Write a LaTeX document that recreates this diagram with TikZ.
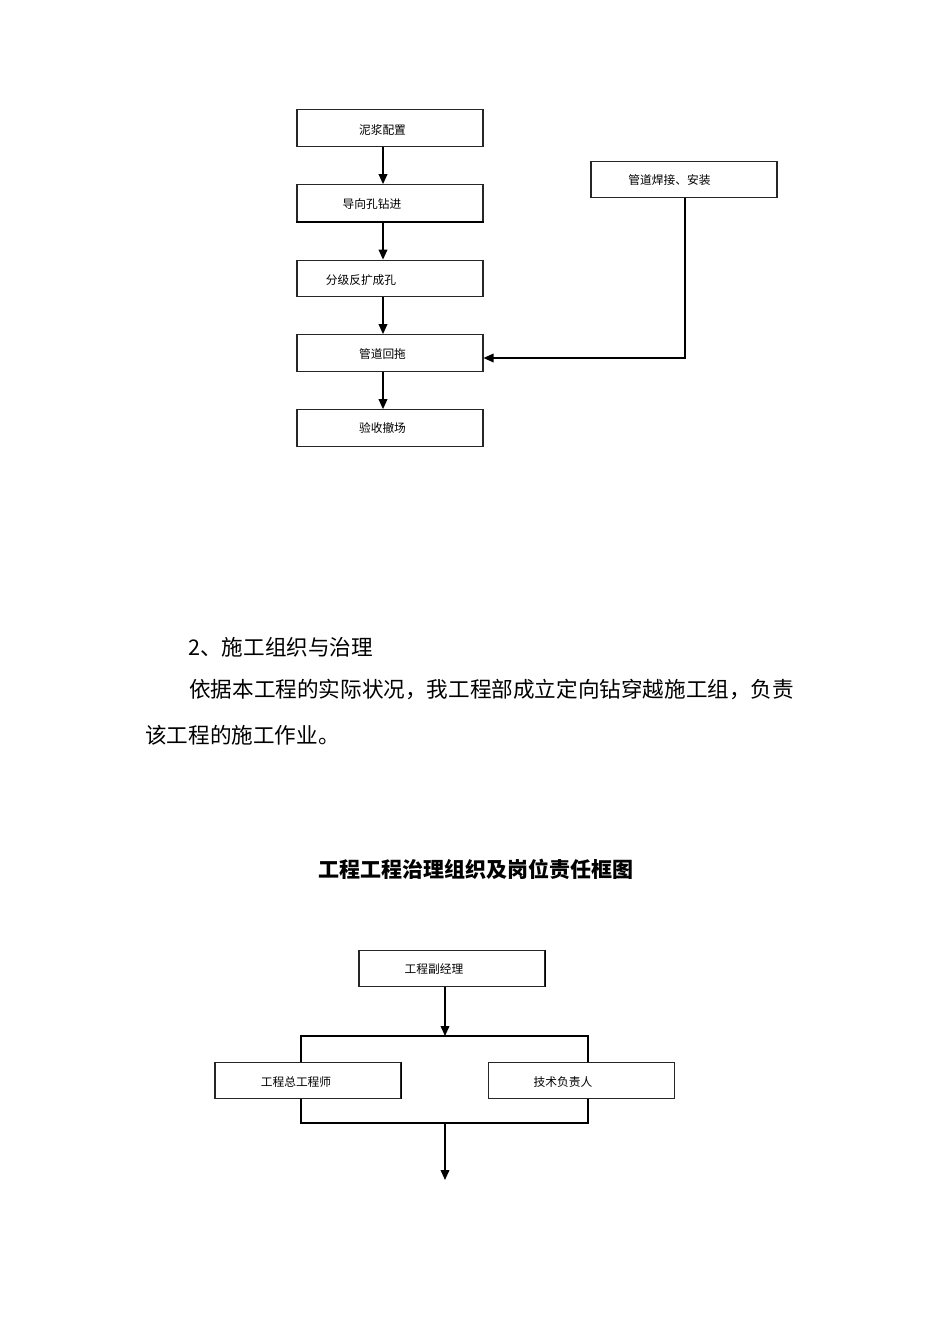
\documentclass[tikz,border=0pt]{standalone}
\usepackage{fontspec}
\setmainfont{Noto Sans CJK SC}
\newfontfamily\cjk{Noto Sans CJK SC}
\usetikzlibrary{arrows.meta}
\tikzset{
  box/.style={draw=black!85, line width=0.8pt, minimum width=139.5pt, minimum height=27.5pt, inner sep=0pt},
  lbl/.style={font=\cjk\fontsize{8.8pt}{10pt}\selectfont, inner sep=0pt},
  body/.style={font=\cjk\fontsize{16.2pt}{20pt}\selectfont, inner sep=0pt, anchor=west},
  arr/.style={line width=1.1pt, -{Triangle[length=7.5pt,width=6.5pt]}},
  ln/.style={line width=1.1pt},
}
\begin{document}
\begin{tikzpicture}[x=0.75pt,y=-0.75pt]
\useasboundingbox (0,0) rectangle (950,1344);
% top flowchart
\node[box] (b1) at (390,128) {};
\node[box] (b2) at (390,203) {};
\node[box] (b3) at (390,278.5) {};
\node[box] (b4) at (390,353) {};
\node[box] (b5) at (390,428) {};
\node[box] (b6) at (684,179.5) {};
\draw[line width=1.4pt] (b2.south west) -- (b2.south east);
\node[lbl] (t1) at (382.5,130) {泥浆配置};
\node[lbl] (t2) at (372,204) {导向孔钻进};
\node[lbl] (t3) at (361,280) {分级反扩成孔};
\node[lbl] (t4) at (382.5,354) {管道回拖};
\node[lbl] (t5) at (382.5,428) {验收撤场};
\node[lbl] (t6) at (669.5,180) {管道焊接、安装};
\draw[arr] (b1.south -| 383,0) -- (b2.north -| 383,0);
\draw[arr] (b2.south -| 383,0) -- (b3.north -| 383,0);
\draw[arr] (b3.south -| 383,0) -- (b4.north -| 383,0);
\draw[arr] (b4.south -| 383,0) -- (b5.north -| 383,0);
\coordinate (c1) at (685,358);
\draw[arr, line width=0.9pt] (b6.south -| c1) -- (c1) -- (b4.east |- c1);
% text
\node[body] (h1) at (188,647) {2、施工组织与治理};
\node[body] (p1) at (189,690) {依据本工程的实际状况，我工程部成立定向钻穿越施工组，负责};
\node[body] (p2) at (145,735) {该工程的施工作业。};
\node[font=\cjk\bfseries\fontsize{15.75pt}{18pt}\selectfont, inner sep=0pt] (title) at (475.5,869) {工程工程治理组织及岗位责任框图};
% org chart
\node[box] (o1) at (452,968.5) {};
\node[box] (o2) at (308,1080.5) {};
\node[box] (o3) at (581.5,1080.5) {};
\draw[line width=1.4pt] (o1.north east) -- (o1.south east);
\draw[line width=1.4pt] (o2.north east) -- (o2.south east);
\node[lbl] (l1) at (434,969) {工程副经理};
\node[lbl] (l2) at (296,1082) {工程总工程师};
\node[lbl] (l3) at (563,1082) {技术负责人};
\coordinate (j1) at (445,1036);
\coordinate (jl) at (301,1036);
\coordinate (jr) at (588,1036);
\coordinate (k1) at (445,1123);
\coordinate (kl) at (301,1123);
\coordinate (kr) at (588,1123);
\coordinate (end) at (445,1180);
\draw[arr] (o1.south -| j1) -- (j1);
\draw[ln] (o2.north -| jl) -- (jl) -- (jr) -- (o3.north -| jr);
\draw[ln] (o2.south -| kl) -- (kl) -- (kr) -- (o3.south -| kr);
\draw[arr] (k1) -- (end);
\end{tikzpicture}
\end{document}
